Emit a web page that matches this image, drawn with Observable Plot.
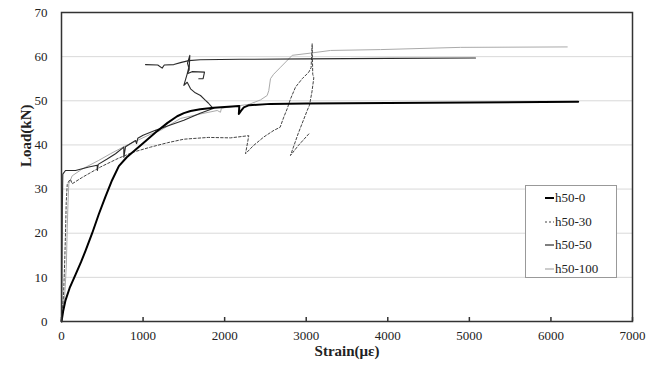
<!DOCTYPE html>
<html>
<head>
<meta charset="utf-8">
<script src="https://cdn.jsdelivr.net/npm/d3@7"></script>
<script src="https://cdn.jsdelivr.net/npm/@observablehq/plot@0.6"></script>
<style>
  body { margin: 0; background: #fff; }
  #wrap { position: relative; width: 659px; height: 365px; font-family: "Liberation Serif", "Times New Roman", serif; }
  #legend { position: absolute; left: 525px; top: 185px; width: 92px; height: 93px; border: 1px solid #999; background: #fff; box-sizing: border-box; }
  .item { position: absolute; left: 19px; height: 16px; display: flex; align-items: center; font-size: 13px; color: #222; }
  .item svg { margin-right: 1px; }
</style>
</head>
<body>
<div id="wrap"></div>
<script>
const series = ["h50-0", "h50-30", "h50-50", "h50-100"];
const xTicks = [0, 1000, 2000, 3000, 4000, 5000, 6000, 7000];
const yTicks = [0, 10, 20, 30, 40, 50, 60, 70];

// [strain (με), load (kN)]
const h50_0 = [[0,0],[20,2.3],[49,4.8],[100,7.6],[172,10.6],[240,13.5],[294,16],[376,20],[457,24.3],[539,28.3],[620,32],[703,35.2],[800,37.2],[907,38.9],[1000,40.4],[1152,42.8],[1300,45],[1418,46.5],[1500,47.2],[1582,47.7],[1700,48.1],[1867,48.4],[2000,48.6],[2180,48.8],[2174,47],[2200,47.7],[2235,48.5],[2300,49],[2562,49.3],[3000,49.4],[4000,49.5],[5000,49.6],[6334,49.8]];

const h50_30 = [[0,0],[25,6],[40,14],[49,20],[58,27],[70,31],[90,31.8],[110,32.2],[131,31.2],[250,32.6],[478,35],[700,37],[886,38.4],[1091,39.5],[1300,40.5],[1500,41.3],[1800,41.7],[2072,41.6],[2296,42.1],[2256,38],[2350,39.8],[2480,41.8],[2603,43.3],[2680,44],[2725,46.3],[2767,48.2],[2807,50.4],[2869,53.1],[2951,55],[3032,56.5],[3060,57.5],[3073,62.9],[3080,56],[3093,55.2],[3070,52],[3040,49],[3012,47.8],[2900,42.5],[2807,37.6],[2900,39.8],[3032,42.5]];

const h50_50_a = [[0,0],[5,10],[10,25],[16,33.4],[49,34.2],[172,34.2],[335,35],[437,35.4],[440,34.2],[450,35.6],[560,36.8],[662,38],[764,39.5],[764,37.2],[785,39.6],[907,41],[920,40.3],[935,41.5],[1000,42.2],[1152,43.3],[1300,44.3],[1500,45.6],[1700,47.2],[1867,48.3],[1847,48.5],[1800,49.5],[1765,50.1],[1704,51.2],[1640,51.8],[1582,52.7],[1541,54.2],[1500,53.5],[1541,56.1],[1560,57.5],[1545,58.5],[1573,60.3],[1565,57],[1541,56.1],[1600,56.6],[1753,56.5],[1736,55],[1683,55]];
const h50_50_b = [[1030,58.2],[1180,58.1],[1234,57.4],[1260,58.1],[1377,58.2],[1470,58.7],[1561,59.1],[1700,59.3],[2194,59.4],[3000,59.5],[4000,59.6],[5075,59.7]];

const h50_100 = [[0,0],[40,6],[60,13],[70,21],[80,27],[90,31.2],[131,33],[250,34.5],[457,36.5],[600,38],[785,39.8],[928,41],[1100,42.5],[1214,43.3],[1459,46],[1700,47],[1909,47.8],[1949,47.4],[1960,48.3],[2100,48.7],[2300,49.2],[2440,50.2],[2521,51.2],[2541,52.3],[2562,55],[2600,56],[2685,57.6],[2760,59],[2828,60.3],[3052,60.8],[3298,61.4],[3911,61.6],[4892,62.1],[6200,62.2]];

const styles = {
  "h50-0":   {stroke: "#000", strokeWidth: 2, dash: null},
  "h50-30":  {stroke: "#444", strokeWidth: 1, dash: "2.5,2"},
  "h50-50":  {stroke: "#2a2a2a", strokeWidth: 1.1, dash: null},
  "h50-100": {stroke: "#aaa", strokeWidth: 1, dash: null}
};

const seg50 = [
  ...h50_50_a.map(d => ({x: d[0], y: d[1], seg: "a"})),
  ...h50_50_b.map(d => ({x: d[0], y: d[1], seg: "b"}))
];

function lineMark(data, name) {
  const s = styles[name];
  return Plot.line(data, {x: d => d[0], y: d => d[1], stroke: s.stroke, strokeWidth: s.strokeWidth, strokeDasharray: s.dash, curve: "linear"});
}

const chart = Plot.plot({
  width: 659,
  height: 365,
  marginLeft: 61,
  marginRight: 27,
  marginTop: 12,
  marginBottom: 44,
  style: {fontFamily: "'Liberation Serif', 'Times New Roman', serif", background: "#fff"},
  x: {domain: [0, 7000]},
  y: {domain: [0, 70]},
  marks: [
    Plot.gridY(yTicks.slice(1, -1), {stroke: "#d9d9d9", strokeOpacity: 1, strokeWidth: 1}),
    lineMark(h50_100, "h50-100"),
    lineMark(h50_30, "h50-30"),
    Plot.line(seg50, {x: "x", y: "y", z: "seg", stroke: styles["h50-50"].stroke, strokeWidth: styles["h50-50"].strokeWidth}),
    lineMark(h50_0, "h50-0"),
    Plot.frame({stroke: "#333", strokeWidth: 1.5}),
    Plot.axisX(xTicks, {tickSize: -4, text: null, stroke: "#333", strokeWidth: 1.5, label: null}),
    Plot.axisX(xTicks, {tickSize: 0, tickPadding: 9, fontSize: 13, fill: "#222", label: null, tickFormat: d => String(d)}),
    Plot.axisY(yTicks, {tickSize: 0, tickPadding: 14, fontSize: 13, fill: "#222", label: null}),
    Plot.text(["Load(kN)"], {frameAnchor: "left", dx: -35, rotate: -90, fontWeight: "bold", fontSize: 15, fill: "#222"}),
    Plot.text(["Strain(με)"], {frameAnchor: "bottom", dy: 34, fontWeight: "bold", fontSize: 15, fill: "#222"})
  ]
});

const wrap = document.getElementById("wrap");
wrap.appendChild(chart);

const legend = document.createElement("div");
legend.id = "legend";
const tops = [4, 28, 51, 75];
series.forEach((name, i) => {
  const s = styles[name];
  const item = document.createElement("div");
  item.className = "item";
  item.style.top = (tops[i]) + "px";
  item.innerHTML = `<svg width="9" height="10"><line x1="0" y1="5" x2="9" y2="5" stroke="${s.stroke}" stroke-width="${s.strokeWidth === 2 ? 2 : 1.2}" ${s.dash ? `stroke-dasharray="2,2"` : ""}/></svg><span>${name}</span>`;
  legend.appendChild(item);
});
wrap.appendChild(legend);
</script>
</body>
</html>
